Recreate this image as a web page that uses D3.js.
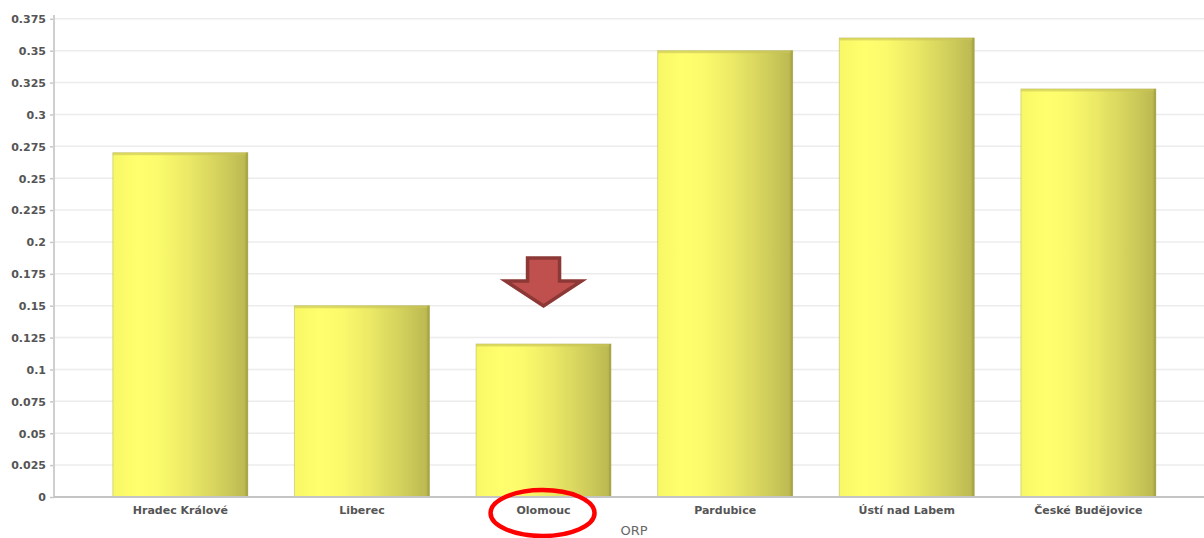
<!DOCTYPE html>
<html><head><meta charset="utf-8">
<script src="https://cdn.jsdelivr.net/npm/d3@7"></script>
<style>html,body{margin:0;padding:0;background:#fff;}svg{display:block;}</style>
</head><body>
<script>
const categories = ["Hradec Králové","Liberec","Olomouc","Pardubice","Ústí nad Labem","České Budějovice"];
const values = [0.27, 0.15, 0.12, 0.35, 0.36, 0.32];
const yTicks = [0,0.025,0.05,0.075,0.1,0.125,0.15,0.175,0.2,0.225,0.25,0.275,0.3,0.325,0.35,0.375];
const xTitle = "ORP";
const highlight = "Olomouc";

const W = 1204, H = 538;
const svg = d3.select("body").append("svg").attr("width", W).attr("height", H);

const mLeft = 54, mRight = 1204, mTop = 18.8, mBottom = 497;
const y = d3.scaleLinear().domain([0, 0.375]).range([mBottom, mTop]);
const x = d3.scaleBand().domain(categories).range([mLeft, mRight])
  .paddingInner(0.257).paddingOuter(0.2946).align(0.55);

const defs = svg.append("defs");
const g = defs.append("linearGradient").attr("id","barg").attr("x1","0").attr("x2","1").attr("y1","0").attr("y2","0");
[[0,"#f8f866"],[0.18,"#ffff6e"],[0.35,"#fafa6c"],[0.55,"#ecea66"],[0.8,"#d2d05c"],[0.97,"#bdbb52"],[1,"#aeac4a"]]
  .forEach(([o,c]) => g.append("stop").attr("offset", o).attr("stop-color", c));

// gridlines
svg.append("g").selectAll("line").data(yTicks.filter(t => t > 0)).join("line")
  .attr("x1", mLeft).attr("x2", mRight)
  .attr("y1", d => y(d)).attr("y2", d => y(d))
  .attr("stroke", "#ececec").attr("stroke-width", 1.5);

// y axis
const yAxis = svg.append("g").attr("transform", `translate(${mLeft},0)`)
  .call(d3.axisLeft(y).tickValues(yTicks).tickFormat(d => String(+d.toFixed(3))).tickSize(4).tickPadding(4));
yAxis.select(".domain").remove();
yAxis.selectAll(".tick line").attr("stroke", "#c8c8c8").attr("stroke-width", 1.5);
yAxis.selectAll(".tick text").attr("fill", "#555").attr("font-family", "DejaVu Sans")
  .attr("font-weight", "bold").attr("font-size", 11).attr("dy", "0.35em");
svg.append("line").attr("x1", mLeft).attr("x2", mLeft).attr("y1", 15).attr("y2", mBottom)
  .attr("stroke", "#cfcfcf").attr("stroke-width", 2);

// bars
const bars = svg.append("g").selectAll("g").data(categories).join("g");
bars.append("rect")
  .attr("x", d => x(d)).attr("width", x.bandwidth())
  .attr("y", (d,i) => y(values[i])).attr("height", (d,i) => mBottom - y(values[i]))
  .attr("fill", "url(#barg)")
  .attr("stroke", "rgba(150,145,40,0.35)").attr("stroke-width", 1);
bars.append("rect")
  .attr("x", d => x(d)).attr("width", x.bandwidth())
  .attr("y", (d,i) => y(values[i])).attr("height", 2.5)
  .attr("fill", "#c9c55a").attr("opacity", 0.6);
bars.append("rect")
  .attr("x", d => x(d) + x.bandwidth() - 2).attr("width", 2)
  .attr("y", (d,i) => y(values[i])).attr("height", (d,i) => mBottom - y(values[i]))
  .attr("fill", "#a9a646");

// x axis line
svg.append("line").attr("x1", mLeft).attr("x2", mRight).attr("y1", mBottom).attr("y2", mBottom)
  .attr("stroke", "#c4c4c4").attr("stroke-width", 2);

// x labels
svg.append("g").selectAll("text").data(categories).join("text")
  .attr("x", d => x(d) + x.bandwidth()/2).attr("y", 514)
  .attr("text-anchor", "middle").attr("fill", "#555")
  .attr("font-family", "DejaVu Sans").attr("font-weight", "bold").attr("font-size", 11)
  .text(d => d);

svg.append("text").attr("x", 634).attr("y", 535).attr("text-anchor", "middle")
  .attr("fill", "#666").attr("font-family", "DejaVu Sans").attr("font-size", 13).text(xTitle);

// arrow annotation
const cx = x(highlight) + x.bandwidth()/2;
const arrow = [[-16,-48],[16,-48],[16,-25],[38,-25],[0,0],[-38,-25],[-16,-25]];
const tipY = 306;
svg.append("path")
  .attr("d", d3.line()(arrow.map(([dx,dy]) => [cx + dx, tipY + dy])) + "Z")
  .attr("fill", "#c0504d").attr("stroke", "#8c3836").attr("stroke-width", 3.5).attr("stroke-linejoin","miter");

// ellipse around label
svg.append("ellipse").attr("cx", cx - 1).attr("cy", 513).attr("rx", 52).attr("ry", 23)
  .attr("fill", "none").attr("stroke", "#ff0000").attr("stroke-width", 4.5);
</script>
</body></html>
